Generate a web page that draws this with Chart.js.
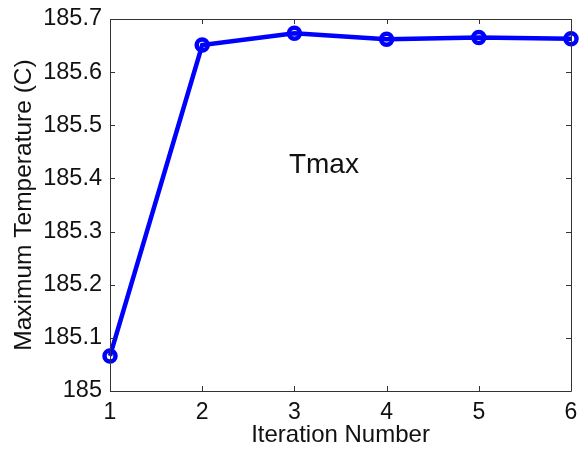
<!DOCTYPE html>
<html lang="en">
<head>
  <meta charset="UTF-8">
  <title>Maximum Temperature vs Iteration</title>
  <style>
    html, body { margin: 0; padding: 0; background: #fff; }
    #wrap { width: 584px; height: 450px; }
  </style>
</head>
<body>
  <div id="wrap"><canvas id="tmaxChart" width="584" height="450"></canvas></div>

  <script src="https://cdn.jsdelivr.net/npm/chart.js"></script>
  <script>
    // values
    const iterations = [1, 2, 3, 4, 5, 6];
    const tmax = [185.066, 185.651, 185.673, 185.662, 185.665, 185.663];
    const yTicks = [185, 185.1, 185.2, 185.3, 185.4, 185.5, 185.6, 185.7];
    const annotation = { text: 'Tmax', x: 3.32, y: 185.425 };

    const FONT = "'Liberation Sans', Arial, sans-serif";
    const AXIS = '#333333';

    // box on top/right + inward ticks on all four sides, like a MATLAB axes
    const matlabBox = {
      id: 'matlabBox',
      afterDraw(chart) {
        const { ctx, chartArea: a, scales: { x, y } } = chart;
        const len = 5;
        ctx.save();
        ctx.strokeStyle = AXIS;
        ctx.lineWidth = 1;
        ctx.beginPath();
        ctx.rect(a.left + 0.5, a.top + 0.5, a.right - a.left, a.bottom - a.top);
        x.ticks.forEach(t => {
          const px = Math.round(x.getPixelForValue(t.value)) + 0.5;
          ctx.moveTo(px, a.bottom); ctx.lineTo(px, a.bottom - len);
          ctx.moveTo(px, a.top); ctx.lineTo(px, a.top + len);
        });
        y.ticks.forEach(t => {
          const py = Math.round(y.getPixelForValue(t.value)) + 0.5;
          ctx.moveTo(a.left, py); ctx.lineTo(a.left + len, py);
          ctx.moveTo(a.right, py); ctx.lineTo(a.right - len, py);
        });
        ctx.stroke();

        ctx.fillStyle = '#111';
        ctx.font = '28px ' + FONT;
        ctx.textAlign = 'center';
        ctx.textBaseline = 'middle';
        ctx.fillText(annotation.text, x.getPixelForValue(annotation.x), y.getPixelForValue(annotation.y));
        ctx.restore();
      }
    };

    new Chart(document.getElementById('tmaxChart'), {
      type: 'line',
      data: {
        datasets: [{
          data: iterations.map((it, i) => ({ x: it, y: tmax[i] })),
          borderColor: '#0000ff',
          borderWidth: 4.5,
          pointRadius: 5.5,
          pointBorderWidth: 4.5,
          pointBackgroundColor: 'rgba(0,0,0,0)',
          pointBorderColor: '#0000ff',
          tension: 0,
          clip: false
        }]
      },
      options: {
        responsive: false,
        animation: false,
        layout: { padding: { top: 19, right: 13, left: 0, bottom: 0 } },
        plugins: { legend: { display: false }, tooltip: { enabled: false } },
        scales: {
          x: {
            type: 'linear',
            min: 1, max: 6,
            grid: { display: false },
            border: { display: false },
            ticks: { stepSize: 1, color: '#111', padding: 0, font: { family: FONT, size: 23 } },
            title: { display: true, text: 'Iteration Number', color: '#111', padding: { top: 0, bottom: 0 }, font: { family: FONT, size: 24 } },
            afterFit(s) { s.height = 59; }
          },
          y: {
            type: 'linear',
            min: 185, max: 185.7,
            grid: { display: false },
            border: { display: false },
            afterBuildTicks(s) { s.ticks = yTicks.map(v => ({ value: v })); },
            ticks: {
              color: '#111', padding: 0, font: { family: FONT, size: 23.5 },
              callback: v => String(Number(v.toFixed(1)))
            },
            title: { display: true, text: 'Maximum Temperature (C)', color: '#111', padding: { top: 10, bottom: 0 }, font: { family: FONT, size: 24.5 } },
            afterFit(s) { s.width = 110; }
          }
        }
      },
      plugins: [matlabBox]
    });
  </script>
</body>
</html>
